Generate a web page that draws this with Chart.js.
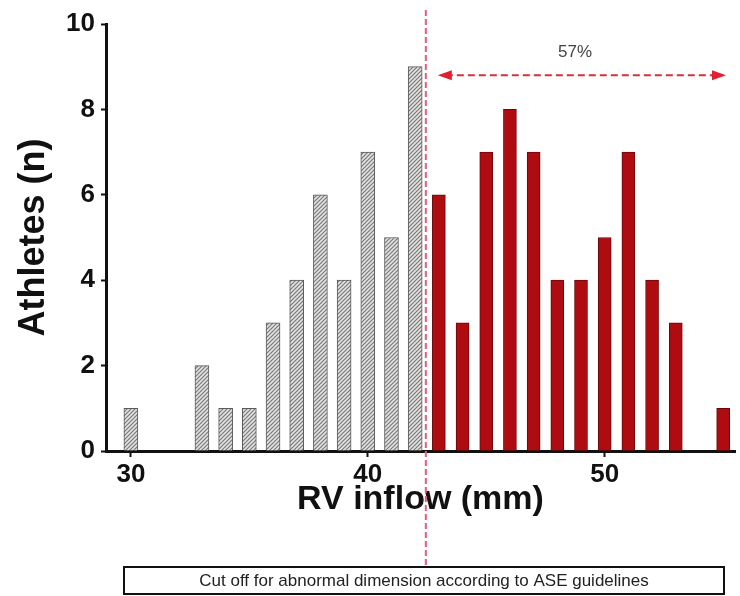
<!DOCTYPE html>
<html lang="en">
<head>
  <meta charset="UTF-8" />
  <title>RV inflow</title>
  <script src="https://cdn.jsdelivr.net/npm/chart.js"></script>
  <style>
    html, body { margin: 0; padding: 0; background: #fff; }
    #wrap { width: 740px; height: 596px; position: relative; }
  </style>
</head>
<body>
  <div id="wrap"><canvas id="chart"></canvas></div>
  <script>
    // RV inflow (mm) histogram, counts
    const normalMm = [30, 31, 32, 33, 34, 35, 36, 37, 38, 39, 40, 41, 42];
    const normalCount = [1, 0, 0, 2, 1, 1, 3, 4, 6, 4, 7, 5, 9];
    const abnormalMm = [43, 44, 45, 46, 47, 48, 49, 50, 51, 52, 53, 54, 55];
    const abnormalCount = [6, 3, 7, 8, 7, 4, 4, 5, 7, 4, 3, 0, 1];
    const xTicks = [30, 40, 50];
    const cutoff = 42.45;
    const cutoffLabel = '57%';
    const arrowLevel = 8.8;
    const boxText = 'Cut off for abnormal dimension according to ASE guidelines';

    function hatch() {
      const c = document.createElement('canvas');
      c.width = 4; c.height = 4;
      const g = c.getContext('2d');
      g.fillStyle = '#e2e2e2';
      g.fillRect(0, 0, 4, 4);
      g.strokeStyle = '#7a7a7a';
      g.lineWidth = 1.2;
      g.beginPath();
      g.moveTo(0, 4); g.lineTo(4, 0);
      g.moveTo(-1, 1); g.lineTo(1, -1);
      g.moveTo(3, 5); g.lineTo(5, 3);
      g.stroke();
      return g.createPattern(c, 'repeat');
    }

    const toPts = (xs, ys) => xs.map((x, i) => ({ x, y: ys[i] }));
    const font = (size, weight) => ({ family: '"Liberation Sans", Arial, sans-serif', size, weight });

    const extras = {
      id: 'extras',
      afterDraw(chart) {
        const { ctx, scales: { x, y } } = chart;
        const cx = x.getPixelForValue(cutoff);
        ctx.save();
        // cut-off line
        ctx.strokeStyle = '#e0607a';
        ctx.lineWidth = 2;
        ctx.setLineDash([6, 3]);
        ctx.beginPath();
        ctx.moveTo(cx, 10);
        ctx.lineTo(cx, 567);
        ctx.stroke();

        // double arrow
        const ay = y.getPixelForValue(arrowLevel);
        const x0 = cx + 12, x1 = 726;
        ctx.strokeStyle = '#d8303a';
        ctx.setLineDash([7, 4]);
        ctx.beginPath();
        ctx.moveTo(x0 + 8, ay);
        ctx.lineTo(x1 - 8, ay);
        ctx.stroke();
        ctx.setLineDash([]);
        ctx.fillStyle = '#e0202e';
        ctx.beginPath();
        ctx.moveTo(x0, ay); ctx.lineTo(x0 + 14, ay - 5); ctx.lineTo(x0 + 14, ay + 5);
        ctx.closePath(); ctx.fill();
        ctx.beginPath();
        ctx.moveTo(x1, ay); ctx.lineTo(x1 - 14, ay - 5); ctx.lineTo(x1 - 14, ay + 5);
        ctx.closePath(); ctx.fill();

        ctx.fillStyle = '#444';
        ctx.font = '17px "Liberation Sans", Arial, sans-serif';
        ctx.textAlign = 'center';
        ctx.textBaseline = 'middle';
        ctx.fillText(cutoffLabel, 575, 52);

        // caption box
        ctx.fillStyle = '#fff';
        ctx.fillRect(124, 567, 600, 27);
        ctx.strokeStyle = '#111';
        ctx.lineWidth = 2;
        ctx.strokeRect(124, 567, 600, 27);
        ctx.fillStyle = '#222';
        ctx.fillText(boxText, 424, 581);
        ctx.restore();
      }
    };

    new Chart(document.getElementById('chart'), {
      type: 'bar',
      data: {
        datasets: [
          {
            data: toPts(normalMm, normalCount),
            backgroundColor: hatch(),
            borderColor: '#5a5a5a',
            borderWidth: 1,
            barThickness: 14,
            grouped: false
          },
          {
            data: toPts(abnormalMm, abnormalCount),
            backgroundColor: '#ae0c10',
            borderColor: '#6e0508',
            borderWidth: 1,
            barThickness: 13,
            grouped: false
          }
        ]
      },
      options: {
        responsive: true,
        maintainAspectRatio: false,
        animation: false,
        layout: { padding: { top: 24, right: 5, left: 0, bottom: 0 } },
        plugins: { legend: { display: false }, tooltip: { enabled: false } },
        scales: {
          x: {
            type: 'linear',
            offset: false,
            min: 28.95,
            max: 55.5,
            afterBuildTicks: s => { s.ticks = xTicks.map(v => ({ value: v })); },
            afterFit: s => { s.height = 145; },
            grid: { display: true, offset: false, drawOnChartArea: false, drawTicks: true, tickLength: 6, color: '#111', tickWidth: 2 },
            border: { color: '#111', width: 3 },
            ticks: { color: '#111', padding: 2, font: font(26, 'bold') },
            title: {
              display: true,
              text: 'RV inflow (mm)',
              color: '#111',
              padding: { top: 0, bottom: 76 },
              font: font(34, 'bold')
            }
          },
          y: {
            min: 0,
            max: 10,
            afterFit: s => { s.width = 106; },
            ticks: { stepSize: 2, color: '#111', padding: 6, font: font(26, 'bold') },
            grid: { display: true, drawOnChartArea: false, drawTicks: true, tickLength: 5, color: '#111', tickWidth: 2 },
            border: { color: '#111', width: 3 },
            title: {
              display: true,
              text: 'Athletes (n)',
              color: '#111',
              padding: { top: 12, bottom: 0 },
              font: font(36, 'bold')
            }
          }
        }
      },
      plugins: [extras]
    });
  </script>
</body>
</html>
